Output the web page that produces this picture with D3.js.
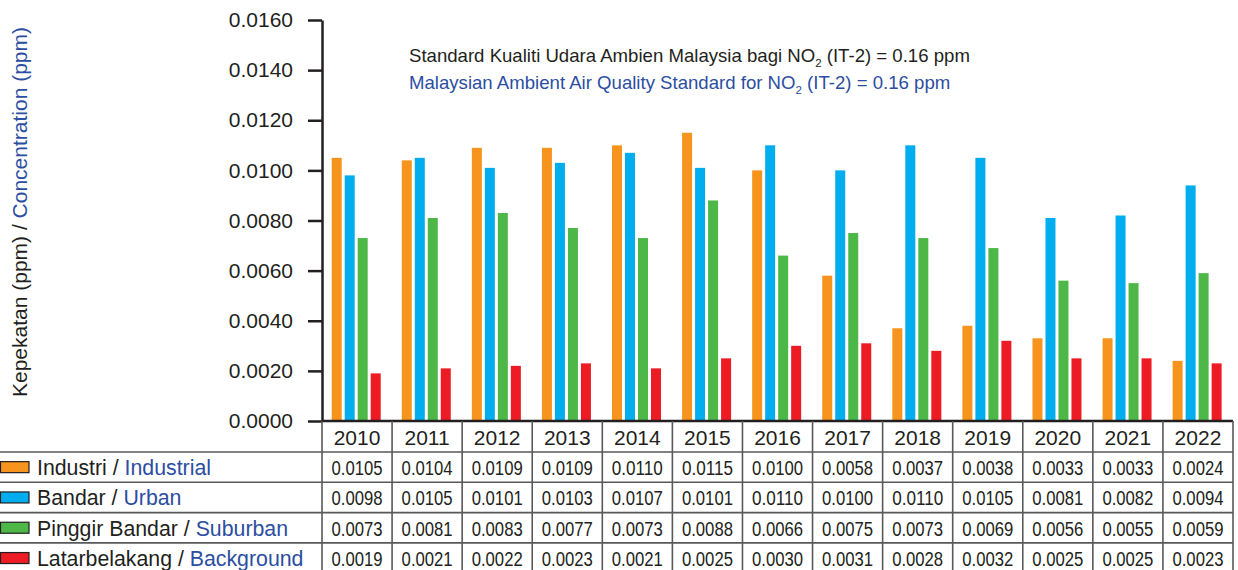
<!DOCTYPE html>
<html>
<head>
<meta charset="utf-8">
<script src="https://cdn.jsdelivr.net/npm/d3@7"></script>
<style>
  body { margin: 0; background: #fff; }
  svg text { font-family: "Liberation Sans", Arial, sans-serif; fill: #231f20; }
</style>
</head>
<body>
<svg id="chart" width="1238" height="570"></svg>
<script>
// data (ppm)
var years = ["2010","2011","2012","2013","2014","2015","2016","2017","2018","2019","2020","2021","2022"];
var industrial = [0.0105,0.0104,0.0109,0.0109,0.0110,0.0115,0.0100,0.0058,0.0037,0.0038,0.0033,0.0033,0.0024];
var urban      = [0.0098,0.0105,0.0101,0.0103,0.0107,0.0101,0.0110,0.0100,0.0110,0.0105,0.0081,0.0082,0.0094];
var suburban   = [0.0073,0.0081,0.0083,0.0077,0.0073,0.0088,0.0066,0.0075,0.0073,0.0069,0.0056,0.0055,0.0059];
var background = [0.0019,0.0021,0.0022,0.0023,0.0021,0.0025,0.0030,0.0031,0.0028,0.0032,0.0025,0.0025,0.0023];
var namesBM = ["Industri","Bandar","Pinggir Bandar","Latarbelakang"];
var namesEN = ["Industrial","Urban","Suburban","Background"];
var colors = ["#f7941d","#00aeef","#4db848","#ed1c24"];
var yTicks = [0,0.002,0.004,0.006,0.008,0.010,0.012,0.014,0.016];

var series = [industrial, urban, suburban, background];
var BLUE = "#2b4ea2";
var DARK = "#231f20";
var GRID = "#58595b";

var svg = d3.select("#chart");

// plot area
var plotLeft = 322, plotRight = 1233, plotTop = 20, base = 421;
var rowH = 30.3, headH = 31;

var y = d3.scaleLinear().domain([0, 0.016]).range([base, plotTop]);
var x = d3.scaleBand().domain(years).range([plotLeft, plotRight]);
var x1 = d3.scaleBand().domain(d3.range(4)).range([9.7, 58.7]).paddingInner(3/13);

// baseline along the bottom
svg.append("line")
  .attr("x1", plotLeft).attr("x2", plotRight).attr("y1", base).attr("y2", base)
  .attr("stroke", "#414042").attr("stroke-width", 2);

// bars
var groups = svg.append("g").selectAll("g")
  .data(years)
  .join("g")
  .attr("transform", function(d) { return "translate(" + x(d) + ",0)"; });

groups.selectAll("rect")
  .data(function(d, i) { return series.map(function(s, k) { return {k: k, v: s[i]}; }); })
  .join("rect")
  .attr("x", function(d) { return x1(d.k); })
  .attr("width", x1.bandwidth())
  .attr("y", function(d) { return y(d.v); })
  .attr("height", function(d) { return base - 1 - y(d.v); })
  .attr("fill", function(d) { return colors[d.k]; });

// y axis
var yAxis = d3.axisLeft(y)
  .tickValues(yTicks)
  .tickFormat(d3.format(".4f"))
  .tickSize(14)
  .tickSizeOuter(0)
  .tickPadding(15);

var ax = svg.append("g")
  .attr("transform", "translate(" + plotLeft + ",0)")
  .call(yAxis);
ax.select(".domain").attr("stroke", DARK).attr("stroke-width", 2.5);
ax.selectAll(".tick line").attr("stroke", DARK).attr("stroke-width", 2.5);
ax.selectAll(".tick text")
  .attr("font-size", 21)
  .attr("fill", DARK)
  .style("font-family", "'Liberation Sans', Arial, sans-serif");

// y axis title
var yt = svg.append("text")
  .attr("transform", "translate(27,212) rotate(-90)")
  .attr("text-anchor", "middle")
  .attr("font-size", 21);
yt.append("tspan").text("Kepekatan (ppm) / ");
yt.append("tspan").style("fill", BLUE).text("Concentration (ppm)");

// standard note
function note(yPos, pre, post, col) {
  var t = svg.append("text")
    .attr("x", 409).attr("y", yPos)
    .attr("font-size", 18.6)
    .style("fill", col);
  t.append("tspan").text(pre);
  t.append("tspan").attr("font-size", 11.5).attr("dy", 5).text("2");
  t.append("tspan").attr("dy", -5).text(post);
}
note(62, "Standard Kualiti Udara Ambien Malaysia bagi NO", " (IT-2) = 0.16 ppm", DARK);
note(89, "Malaysian Ambient Air Quality Standard for NO", " (IT-2) = 0.16 ppm", BLUE);

// data table
var table = svg.append("g");
var rowTop = base + headH;

// horizontal row lines
d3.range(4).forEach(function(i) {
  table.append("line")
    .attr("x1", 0).attr("x2", plotRight)
    .attr("y1", rowTop + i * rowH).attr("y2", rowTop + i * rowH)
    .attr("stroke", GRID).attr("stroke-width", 1.6);
});
// top border of header
table.append("line")
  .attr("x1", plotLeft).attr("x2", plotRight).attr("y1", base).attr("y2", base)
  .attr("stroke", DARK).attr("stroke-width", 2.5);

// vertical column lines
years.concat(["end"]).forEach(function(d, i) {
  var cx = i < years.length ? x(d) : plotRight;
  table.append("line")
    .attr("x1", cx).attr("x2", cx).attr("y1", base).attr("y2", 570)
    .attr("stroke", GRID).attr("stroke-width", 1.6);
});

// year header
table.selectAll("text.year")
  .data(years)
  .join("text")
  .attr("class", "year")
  .attr("x", function(d) { return x(d) + x.bandwidth() / 2; })
  .attr("y", base + 24)
  .attr("text-anchor", "middle")
  .attr("font-size", 21)
  .text(function(d) { return d; });

// rows
series.forEach(function(s, k) {
  var cy = rowTop + k * rowH + rowH / 2;

  table.append("rect")
    .attr("x", 0.5).attr("y", cy - 5.5)
    .attr("width", 28.5).attr("height", 11)
    .attr("fill", colors[k])
    .attr("stroke", DARK).attr("stroke-width", 1.2);

  var lab = table.append("text")
    .attr("x", 37).attr("y", cy + 8)
    .attr("font-size", 21.3);
  lab.append("tspan").text(namesBM[k] + " / ");
  lab.append("tspan").style("fill", BLUE).text(namesEN[k]);

  table.selectAll("text.v" + k)
    .data(s)
    .join("text")
    .attr("class", "v" + k)
    .attr("x", function(d, i) { return x(years[i]) + x.bandwidth() / 2; })
    .attr("y", cy + 8)
    .attr("text-anchor", "middle")
    .attr("font-size", 20)
    .attr("textLength", 51)
    .attr("lengthAdjust", "spacingAndGlyphs")
    .text(function(d) { return d3.format(".4f")(d); });
});
</script>
</body>
</html>
